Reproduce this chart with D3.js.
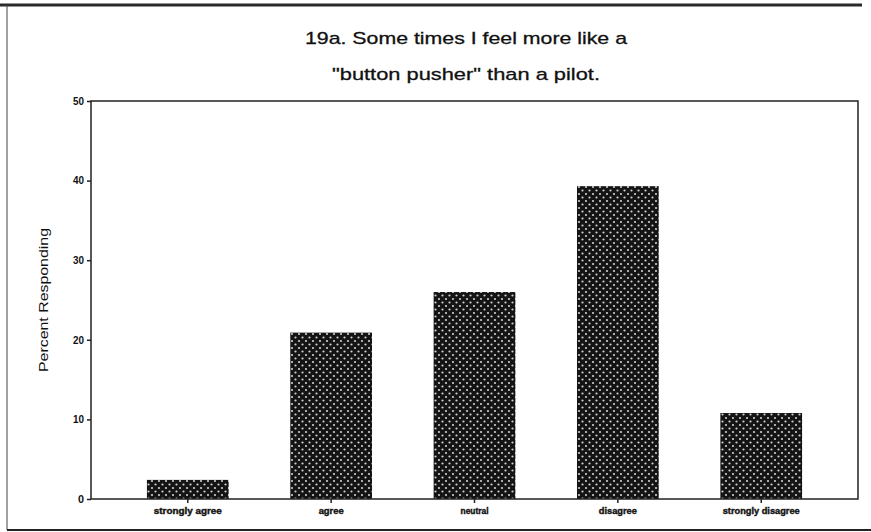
<!DOCTYPE html>
<html>
<head>
<meta charset="utf-8">
<script src="https://cdn.jsdelivr.net/npm/d3@7"></script>
<style>
  body { margin: 0; background: #fff; }
  svg { display: block; font-family: "Liberation Sans", Arial, sans-serif; }
</style>
</head>
<body>
<div id="chart"></div>
<script>
// values
const categories = ["strongly agree", "agree", "neutral", "disagree", "strongly disagree"];
const percents = [2.4, 20.9, 26.0, 39.3, 10.8];
const yTicks = [0, 10, 20, 30, 40, 50];
const titleLines = ["19a. Some times I feel more like a", "\"button pusher\" than a pilot."];

const width = 871, height = 532;
const margin = { top: 101, right: 13, bottom: 33, left: 91 };

const svg = d3.select("#chart").append("svg")
    .attr("width", width)
    .attr("height", height);

// dotted fill like the scanned print
const defs = svg.append("defs");
const pat = defs.append("pattern")
    .attr("id", "dots")
    .attr("patternUnits", "userSpaceOnUse")
    .attr("width", 7).attr("height", 7);
pat.append("rect").attr("width", 7).attr("height", 7).attr("fill", "#141414");
pat.append("circle").attr("cx", 1.5).attr("cy", 1.5).attr("r", 1.1).attr("fill", "#cfcfcf");
pat.append("circle").attr("cx", 5).attr("cy", 5).attr("r", 1.1).attr("fill", "#cfcfcf");

// outer frame (left, top, bottom)
svg.append("line").attr("x1", 0).attr("x2", 862).attr("y1", 5).attr("y2", 5)
    .attr("stroke", "#2a2a2a").attr("stroke-width", 3);
svg.append("line").attr("x1", 7).attr("x2", 7).attr("y1", 5).attr("y2", 530)
    .attr("stroke", "#444").attr("stroke-width", 1);
svg.append("line").attr("x1", 7).attr("x2", 871).attr("y1", 530).attr("y2", 530)
    .attr("stroke", "#222").attr("stroke-width", 2);

// title
svg.append("g").selectAll("text")
    .data(titleLines)
    .join("text")
    .attr("x", 466)
    .attr("y", (d, i) => 44 + i * 36)
    .attr("text-anchor", "middle")
    .attr("font-size", 17)
    .attr("fill", "#111")
    .attr("stroke", "#111")
    .attr("stroke-width", 0.3)
    .attr("textLength", (d, i) => i ? 268 : 322)
    .attr("lengthAdjust", "spacingAndGlyphs")
    .text(d => d);

const x = d3.scaleBand()
    .domain(categories)
    .range([margin.left, width - margin.right])
    .paddingInner(0.43)
    .paddingOuter(0.39);

const y = d3.scaleLinear()
    .domain([0, 50])
    .range([height - margin.bottom, margin.top]);

// bars
svg.append("g").selectAll("rect")
    .data(categories)
    .join("rect")
    .attr("x", d => x(d))
    .attr("width", x.bandwidth())
    .attr("y", (d, i) => y(percents[i]))
    .attr("height", (d, i) => y(0) - y(percents[i]))
    .attr("fill", "url(#dots)");

// plot frame
svg.append("rect")
    .attr("x", margin.left)
    .attr("y", margin.top)
    .attr("width", width - margin.right - margin.left)
    .attr("height", y(0) - margin.top)
    .attr("fill", "none")
    .attr("stroke", "#222")
    .attr("stroke-width", 1.5);

// y axis
const yAxis = svg.append("g")
    .attr("transform", `translate(${margin.left},0)`)
    .call(d3.axisLeft(y).tickValues(yTicks).tickSize(4).tickPadding(3));
yAxis.select(".domain").remove();
yAxis.selectAll("line").attr("stroke", "#222").attr("stroke-width", 1.5);
yAxis.selectAll("text")
    .attr("font-size", 10)
    .attr("font-weight", "bold")
    .attr("fill", "#111")
    .attr("font-family", "Liberation Sans, Arial, sans-serif")
    .attr("textLength", d => d < 10 ? 6 : 11)
    .attr("lengthAdjust", "spacingAndGlyphs");

// x axis
const xAxis = svg.append("g")
    .attr("transform", `translate(0,${y(0)})`)
    .call(d3.axisBottom(x).tickSize(4).tickPadding(5));
xAxis.select(".domain").remove();
xAxis.selectAll("line").attr("stroke", "#222").attr("stroke-width", 1.5);
const labelWidths = [68, 25, 28, 38, 77];
xAxis.selectAll("text")
    .attr("font-size", 9)
    .attr("font-weight", "bold")
    .attr("fill", "#111")
    .attr("stroke", "#111")
    .attr("stroke-width", 0.4)
    .attr("font-family", "Liberation Sans, Arial, sans-serif")
    .attr("textLength", (d, i) => labelWidths[i])
    .attr("lengthAdjust", "spacingAndGlyphs");

// y label
svg.append("text")
    .attr("transform", "translate(48,300) rotate(-90)")
    .attr("text-anchor", "middle")
    .attr("font-size", 13)
    .attr("fill", "#111")
    .attr("textLength", 144)
    .attr("lengthAdjust", "spacingAndGlyphs")
    .text("Percent Responding");
</script>
</body>
</html>
